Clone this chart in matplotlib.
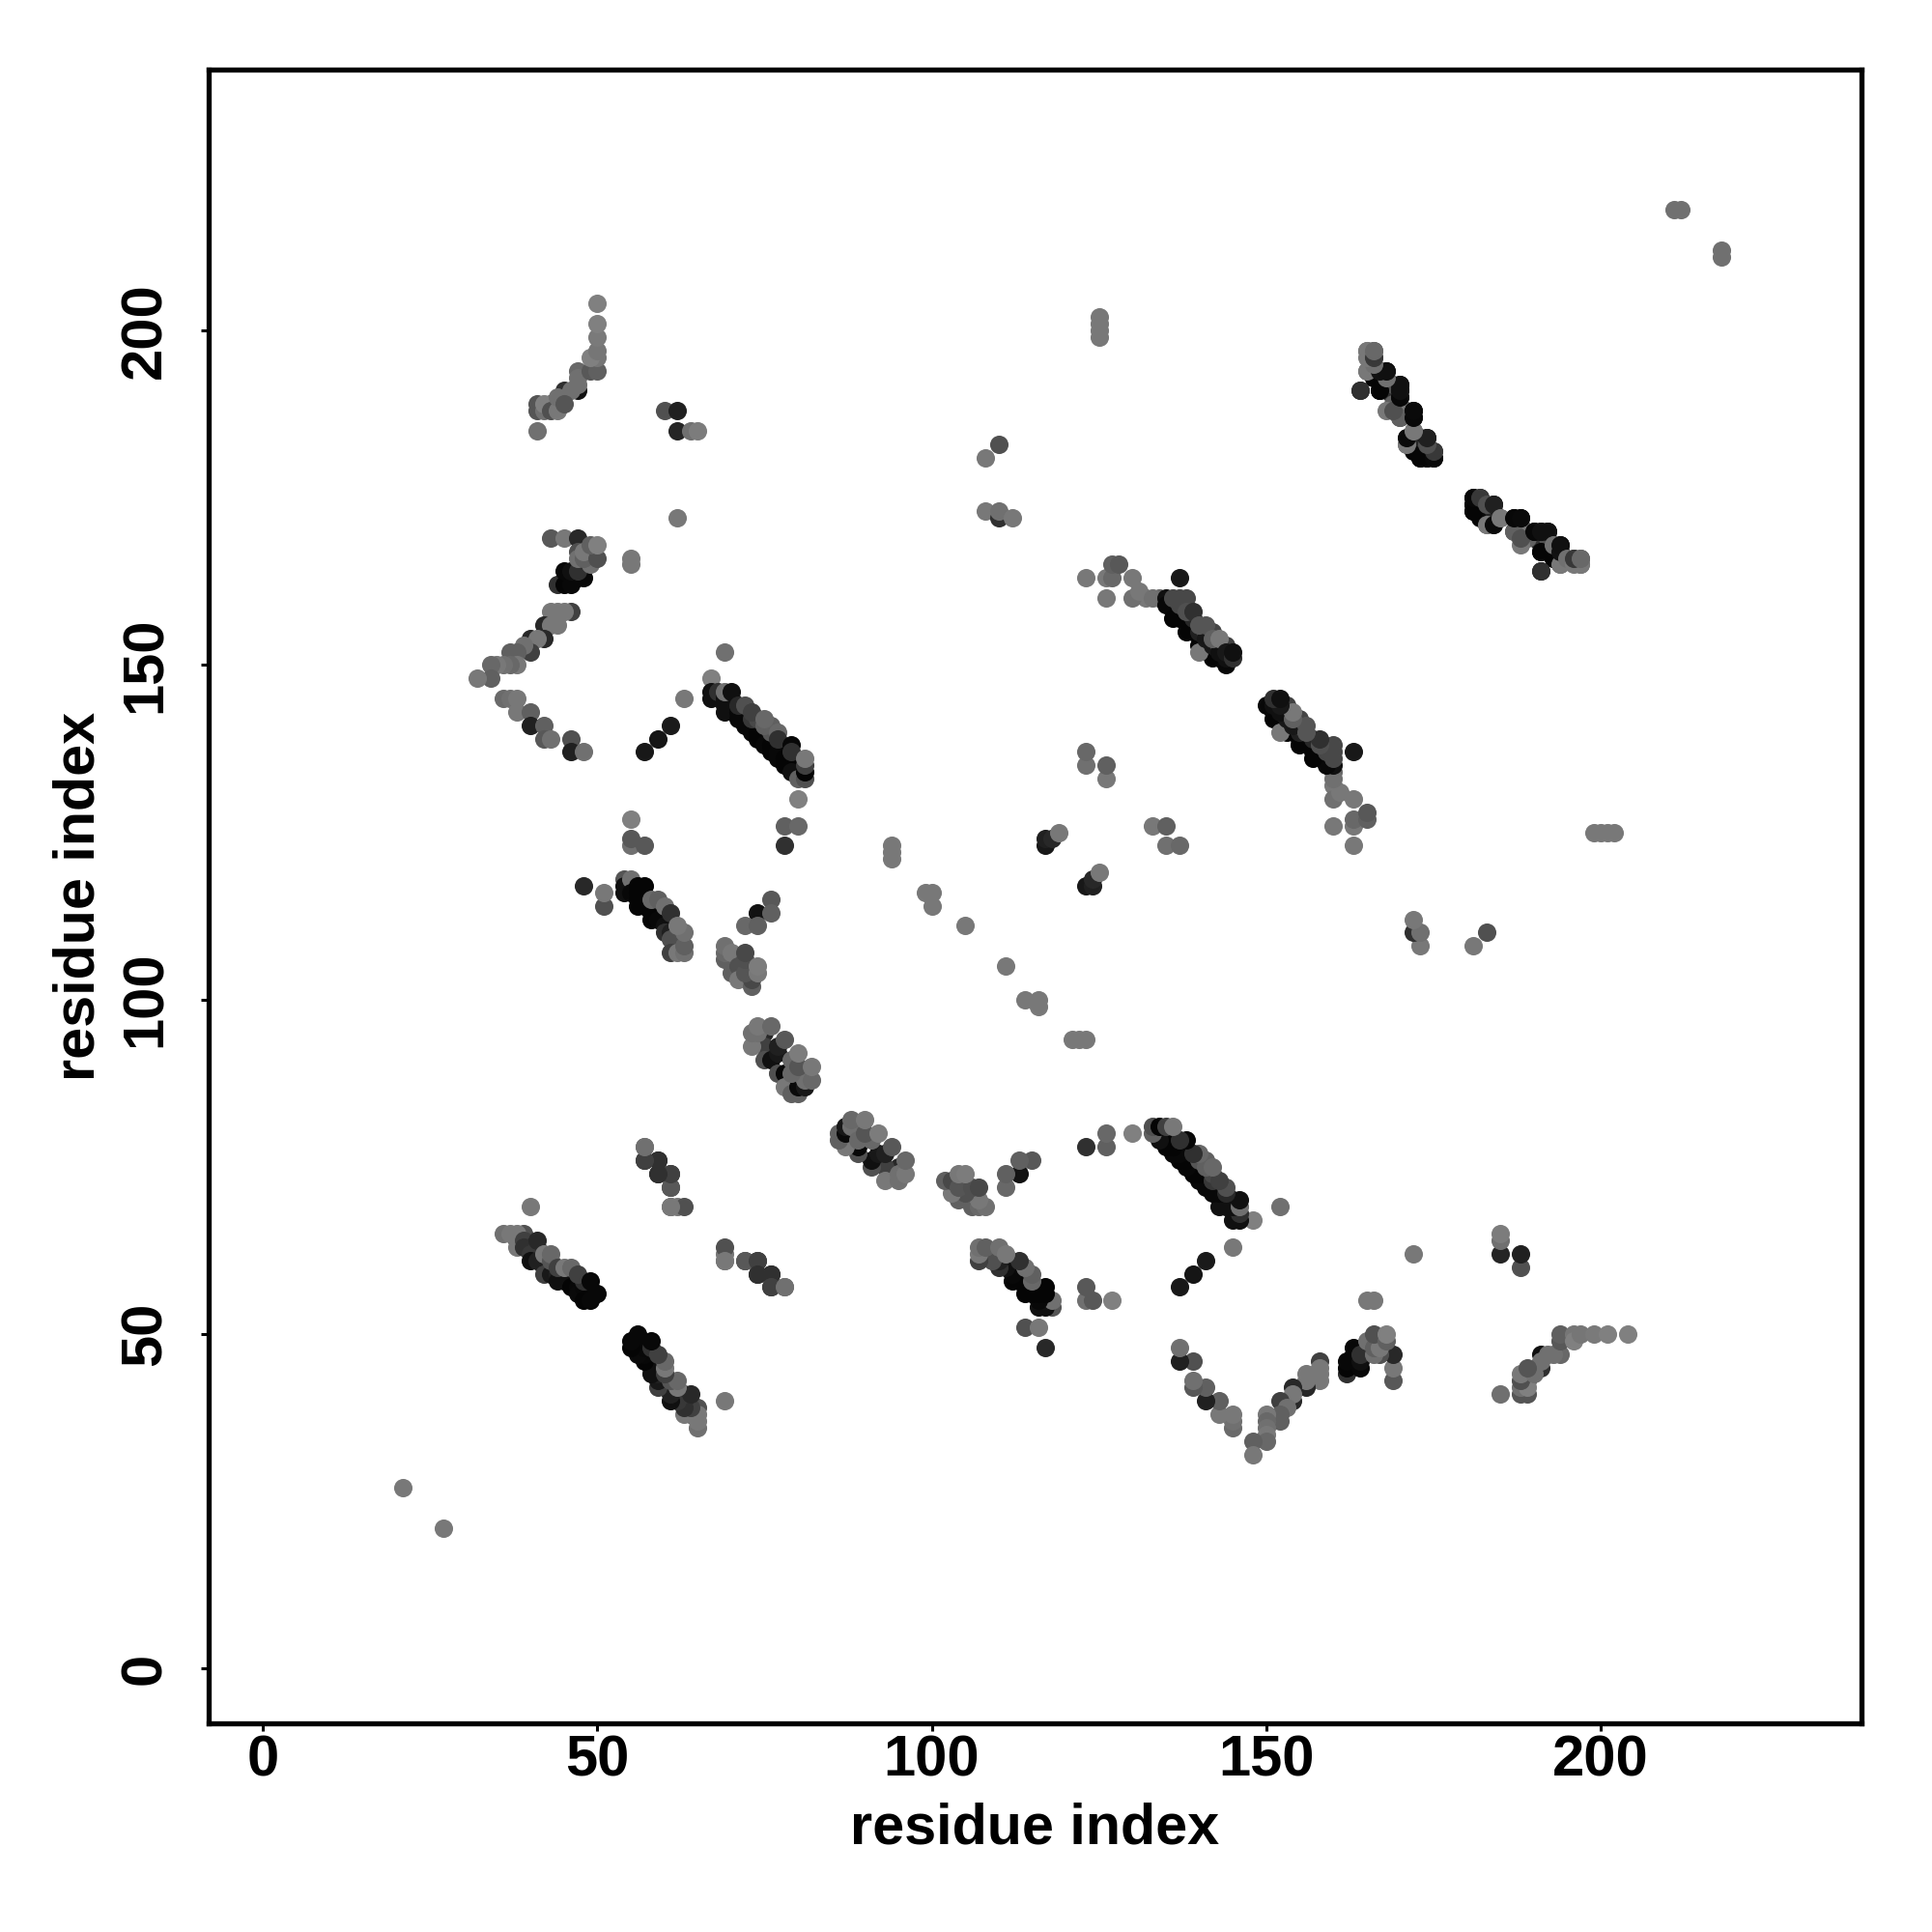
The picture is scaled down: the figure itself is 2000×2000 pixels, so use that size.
import matplotlib
matplotlib.use("Agg")
import matplotlib.pyplot as plt

plt.rcParams["font.family"] = ["Liberation Sans", "DejaVu Sans"]
plt.rcParams["font.weight"] = "bold"

# contacts above the diagonal as (residue i, residue j, grey level)
# darker ones first so the lighter ones sit on top, like the original
far_single = [
    (21, 27, 0x78), (211, 218, 0x70), (212, 218, 0x70),
    (125, 199, 0x78), (125, 200, 0x78), (125, 201, 0x78), (125, 202, 0x78),
    (94, 121, 0x78), (94, 122, 0x78), (94, 123, 0x78),
    (100, 114, 0x78), (99, 116, 0x78), (100, 116, 0x78), (105, 111, 0x78),
    (62, 172, 0x78), (55, 165, 0x78), (55, 166, 0x78),
    (40, 69, 0x78), (69, 152, 0x70), (67, 148, 0x80), (63, 145, 0x78),
    (108, 181, 0x78), (110, 183, 0x50), (108, 173, 0x78), (110, 172, 0x30),
    (110, 173, 0x70), (112, 172, 0x78),
    (117, 123, 0x18), (117, 124, 0x20), (118, 124, 0x28), (119, 125, 0x78),
    (123, 135, 0x70), (123, 137, 0x68), (126, 133, 0x78), (126, 135, 0x60),
]
top_left = [
    (47, 191, 0x10), (45, 191, 0x30), (46, 191, 0x70), (43, 189, 0x20),
    (41, 188, 0x55), (41, 189, 0x55), (42, 188, 0x70), (42, 189, 0x80),
    (43, 188, 0x50), (44, 188, 0x78), (44, 190, 0x70), (45, 189, 0x55),
    (47, 194, 0x68), (47, 193, 0x70), (47, 192, 0x70), (49, 194, 0x58),
    (50, 194, 0x60), (50, 196, 0x76), (49, 196, 0x80), (50, 197, 0x76),
    (50, 199, 0x7a), (50, 201, 0x80), (50, 204, 0x80), (41, 185, 0x70),
    (60, 188, 0x50), (62, 188, 0x20), (62, 185, 0x25), (64, 185, 0x70),
    (65, 185, 0x7c),
]
upper_arm = [
    (44, 162, 0x30), (45, 162, 0x05), (46, 162, 0x08), (47, 163, 0x08),
    (48, 163, 0x08), (45, 164, 0x08), (46, 164, 0x10), (47, 164, 0x30),
    (43, 169, 0x58), (45, 169, 0x78), (47, 169, 0x28), (49, 165, 0x70),
    (47, 167, 0x50), (47, 166, 0x70), (48, 166, 0x60), (48, 167, 0x78),
    (50, 166, 0x50), (49, 168, 0x60), (50, 168, 0x80),
    (46, 158, 0x40), (43, 158, 0x78), (44, 158, 0x78), (45, 158, 0x78),
    (42, 156, 0x28), (43, 156, 0x78), (44, 156, 0x78), (42, 154, 0x28),
    (40, 154, 0x28), (41, 154, 0x78), (40, 152, 0x40), (39, 153, 0x70),
    (37, 152, 0x60), (38, 152, 0x60), (38, 150, 0x78), (37, 150, 0x68),
    (36, 150, 0x70), (35, 150, 0x78), (34, 150, 0x68),
    (34, 148, 0x60), (32, 148, 0x78),
    (36, 145, 0x6a), (37, 145, 0x70), (38, 145, 0x78), (38, 143, 0x78),
    (40, 143, 0x60), (40, 141, 0x20), (42, 141, 0x60), (42, 139, 0x58),
    (43, 139, 0x70), (46, 139, 0x50), (46, 137, 0x20), (48, 137, 0x70),
    (57, 137, 0x18), (59, 139, 0x15), (61, 141, 0x1a),
]
strip_67_81 = [
    (67, 146, 0x10), (67, 145, 0x10), (68, 146, 0x30), (69, 145, 0x10),
    (69, 144, 0x10), (69, 143, 0x10), (70, 145, 0x10), (70, 144, 0x10),
    (71, 143, 0x08), (71, 142, 0x08), (72, 142, 0x08), (72, 141, 0x08),
    (73, 141, 0x08), (73, 140, 0x08), (74, 140, 0x05), (74, 139, 0x05),
    (75, 139, 0x05), (75, 138, 0x08), (76, 138, 0x05), (76, 137, 0x05),
    (77, 137, 0x08), (77, 136, 0x08), (78, 136, 0x05), (78, 135, 0x05),
    (79, 135, 0x05), (79, 134, 0x10), (80, 133, 0x60), (81, 133, 0x50),
    (81, 134, 0x05), (69, 146, 0x70), (70, 146, 0x10), (71, 144, 0x28),
    (73, 142, 0x38), (74, 142, 0x48), (76, 140, 0x55), (76, 141, 0x60),
    (72, 144, 0x50), (73, 143, 0x40), (75, 141, 0x60), (75, 142, 0x68),
    (77, 140, 0x68), (77, 139, 0x30), (79, 138, 0x08), (79, 137, 0x30),
    (81, 135, 0x40), (81, 136, 0x78),
    (80, 130, 0x80), (78, 126, 0x60), (80, 126, 0x68), (78, 123, 0x30),
]
strip_54_63 = [
    (54, 118, 0x55), (54, 117, 0x10), (54, 116, 0x10), (55, 118, 0x70),
    (55, 116, 0x08), (56, 116, 0x05), (56, 115, 0x05), (56, 114, 0x05),
    (57, 114, 0x05), (58, 113, 0x05), (58, 112, 0x05), (59, 112, 0x08),
    (60, 111, 0x10), (60, 110, 0x30), (61, 110, 0x20), (62, 109, 0x30),
    (56, 117, 0x05), (57, 117, 0x05), (58, 115, 0x68), (59, 115, 0x60),
    (60, 114, 0x70), (61, 113, 0x30), (61, 109, 0x50), (61, 107, 0x40),
    (62, 107, 0x78), (63, 107, 0x70), (63, 108, 0x60), (63, 110, 0x70),
    (62, 111, 0x78),
    (55, 127, 0x80), (55, 123, 0x70), (55, 124, 0x58), (57, 123, 0x58),
    (48, 117, 0x28), (51, 114, 0x50), (51, 116, 0x78),
    (76, 115, 0x58), (74, 113, 0x12), (76, 113, 0x60), (72, 111, 0x68),
    (74, 111, 0x60),
]
near_diag_a = [
    (69, 106, 0x60), (69, 107, 0x68), (69, 108, 0x70), (70, 104, 0x60),
    (70, 107, 0x78), (71, 105, 0x50), (71, 103, 0x78), (73, 102, 0x60),
    (73, 103, 0x48), (72, 104, 0x55), (72, 106, 0x50), (72, 107, 0x48),
    (74, 104, 0x78), (74, 105, 0x7c),
]
near_diag_b = [
    (75, 95, 0x28), (75, 93, 0x40), (75, 91, 0x50), (76, 91, 0x10),
    (77, 92, 0x18), (77, 93, 0x20), (77, 89, 0x50), (78, 89, 0x08),
    (78, 87, 0x78), (79, 86, 0x60), (80, 86, 0x60), (80, 87, 0x0a),
    (81, 87, 0x18), (81, 88, 0x70), (82, 88, 0x68), (79, 89, 0x68),
    (79, 91, 0x68), (80, 90, 0x55), (73, 93, 0x78), (73, 95, 0x70),
    (74, 95, 0x70), (74, 96, 0x78), (76, 96, 0x68), (78, 94, 0x58),
    (80, 92, 0x7c), (82, 90, 0x78),
]
hairpin_57_61 = [
    (57, 78, 0x70), (57, 76, 0x40), (59, 76, 0x30), (59, 74, 0x35),
    (61, 74, 0x40), (61, 72, 0x50), (61, 69, 0x68), (62, 69, 0x78),
    (63, 69, 0x50),
]
strip_36_50 = [
    (38, 64, 0x10), (39, 65, 0x50), (36, 65, 0x70), (37, 65, 0x78),
    (38, 65, 0x78), (38, 63, 0x78), (39, 64, 0x40), (39, 63, 0x30),
    (40, 63, 0x30), (41, 63, 0x35), (41, 62, 0x20), (42, 61, 0x18),
    (42, 60, 0x30), (43, 60, 0x35), (40, 62, 0x38), (40, 61, 0x10),
    (41, 64, 0x28), (41, 61, 0x20), (42, 62, 0x78), (42, 59, 0x40),
    (43, 59, 0x18), (43, 61, 0x55), (43, 62, 0x68), (44, 59, 0x20),
    (44, 58, 0x10), (45, 58, 0x10), (46, 57, 0x05), (47, 57, 0x08),
    (47, 56, 0x0a), (48, 57, 0x08), (48, 55, 0x05), (49, 55, 0x08),
    (50, 56, 0x08), (48, 58, 0x30), (44, 60, 0x40), (45, 60, 0x78),
    (46, 60, 0x68), (47, 59, 0x40), (49, 58, 0x08),
]
strip_135_145 = [
    (134, 160, 0x68), (132, 160, 0x78), (130, 160, 0x70), (131, 161, 0x78),
    (123, 163, 0x78), (126, 163, 0x78), (127, 163, 0x68), (127, 165, 0x60),
    (128, 165, 0x58), (130, 163, 0x78), (126, 160, 0x78), (137, 163, 0x18),
    (133, 160, 0x70), (135, 160, 0x10), (135, 159, 0x08), (136, 157, 0x05),
    (137, 157, 0x05), (138, 155, 0x05), (139, 155, 0x05), (140, 153, 0x05),
    (141, 153, 0x05), (142, 151, 0x05), (143, 151, 0x05), (144, 150, 0x08),
    (140, 152, 0x78), (137, 159, 0x48), (139, 157, 0x28), (140, 155, 0x20),
    (141, 155, 0x40), (142, 155, 0x45), (141, 154, 0x18), (142, 153, 0x18),
    (143, 153, 0x50), (144, 153, 0x40), (143, 152, 0x10), (144, 151, 0x10),
    (136, 160, 0x48), (137, 160, 0x48), (138, 160, 0x48),
    (138, 158, 0x50), (139, 158, 0x30), (140, 156, 0x55), (141, 156, 0x55),
    (142, 154, 0x60), (143, 154, 0x78), (144, 152, 0x18), (145, 151, 0x30),
    (145, 152, 0x10),
]
strip_164_175 = [
    (165, 194, 0x78), (165, 197, 0x78), (166, 196, 0x50), (166, 197, 0x58),
    (164, 191, 0x30), (166, 193, 0x05), (167, 191, 0x05), (167, 194, 0x10),
    (168, 194, 0x15), (168, 192, 0x20), (168, 191, 0x08), (169, 190, 0x30),
    (169, 189, 0x60), (169, 188, 0x50), (169, 192, 0x50),
    (170, 187, 0x55), (170, 190, 0x18), (170, 191, 0x10), (170, 192, 0x08),
    (171, 188, 0x78), (172, 187, 0x08), (172, 188, 0x08), (171, 183, 0x68),
    (171, 184, 0x78), (172, 185, 0x78), (172, 182, 0x05), (172, 183, 0x0a),
    (173, 181, 0x05), (174, 181, 0x05), (175, 181, 0x05), (173, 184, 0x28),
    (174, 184, 0x10), (175, 182, 0x30),
]
strip_181_197 = [
    (181, 173, 0x05), (181, 174, 0x05), (181, 175, 0x08), (182, 175, 0x38),
    (183, 171, 0x78), (183, 174, 0x50), (184, 174, 0x20), (184, 171, 0x0a),
    (185, 172, 0x78), (187, 170, 0x60), (188, 168, 0x78), (188, 169, 0x50),
    (187, 172, 0x08), (188, 172, 0x0a), (191, 167, 0x05), (193, 166, 0x05),
    (190, 170, 0x08), (191, 170, 0x10), (192, 170, 0x10), (191, 164, 0x30),
    (193, 168, 0x70), (194, 165, 0x78), (194, 167, 0x12), (194, 168, 0x10),
    (195, 166, 0x70), (196, 165, 0x78), (197, 165, 0x78), (196, 166, 0x38),
    (197, 166, 0x68),
]
lower_pairs = [
    (61, 69, 0x78), (61, 72, 0x58), (61, 74, 0x40), (59, 74, 0x30),
    (59, 76, 0x30), (57, 76, 0x40), (57, 78, 0x70),
]

residue_ticks = [0, 50, 100, 150, 200]

blocks = [far_single, top_left, upper_arm, strip_67_81, strip_54_63,
          near_diag_a, near_diag_b, hairpin_57_61, lower_pairs, strip_36_50,
          strip_135_145, strip_164_175, strip_181_197]

fig = plt.figure(figsize=(10, 10), dpi=200)
ax = fig.add_axes([216 / 2000, 1 - 1784 / 2000, 1711 / 2000, 1712 / 2000])

# the map is symmetric, so every contact goes in twice
for block in blocks:
    for a, b, g in block:
        lo, hi = min(a, b), max(a, b)
        grey = (g / 255, g / 255, g / 255)
        ax.scatter([lo, hi], [hi, lo], s=47, color=[grey], linewidths=0, zorder=2)

ax.set_xlim(-8.1, 239)
ax.set_ylim(-8.2, 239)
ax.set_xticks(residue_ticks)
ax.set_yticks(residue_ticks)
ax.tick_params(axis="x", length=3, width=1.1, labelsize=21.5, pad=1)
ax.tick_params(axis="y", length=3, width=1.1, labelsize=21.5, pad=10.5)
for label in ax.get_yticklabels():
    label.set_rotation(90)
    label.set_va("center")
ax.set_xlabel("residue index", fontsize=21.4, fontweight="bold", labelpad=5.7)
ax.set_ylabel("residue index", fontsize=21.4, fontweight="bold", labelpad=5)
for spine in ax.spines.values():
    spine.set_linewidth(1.9)

fig.savefig("out.png", dpi=200)
